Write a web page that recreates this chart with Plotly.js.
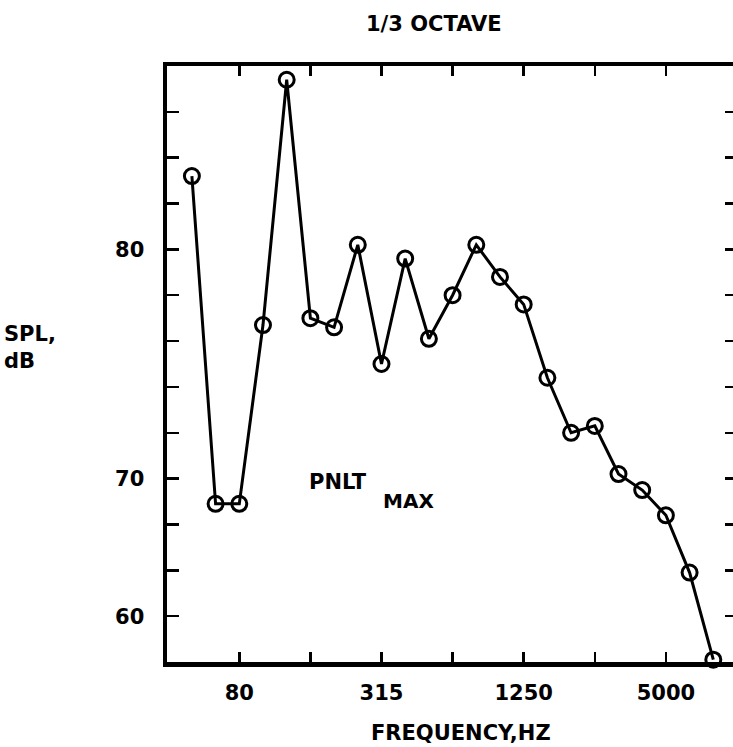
<!DOCTYPE html>
<html>
<head>
<meta charset="utf-8">
<script src="https://cdn.plot.ly/plotly-3.0.1.min.js"></script>
<style>
html, body { margin: 0; padding: 0; overflow: hidden; background: #fff; }
#chart { width: 741px; height: 747px; }
</style>
</head>
<body>
<div id="chart"></div>
<script>
// 1/3-octave band centre frequencies (Hz)
var bands = ["50","63","80","100","125","160","200","250","315","400","500","630","800","1000","1250","1600","2000","2500","3150","4000","5000","6300","8000"];
// SPL, dB at PNLT max
var spl = [83.2, 68.9, 68.9, 76.7, 87.4, 77.0, 76.6, 80.2, 75.0, 79.6, 76.1, 78.0, 80.2, 78.8, 77.6, 74.4, 72.0, 72.3, 70.2, 69.5, 68.4, 65.9, 62.1];

// x-axis tick marks and labels
var xTickVals = ["80","160","315","630","1250","2500","5000"];
var xTickText = ["80","","315","","1250","","5000"];
// y-axis tick marks and labels (as printed on the original)
var yTickVals = [62,64,66,68,70,72,74,76,78,80,82,84,86,88];
var yTickText = ["","60","","","70","","","","","80","","","",""];

var FONT = "DejaVu Sans, Verdana, sans-serif";

var trace = {
  x: bands,
  y: spl,
  type: "scatter",
  mode: "lines+markers",
  line: {color: "#000", width: 3},
  marker: {symbol: "circle-open", size: 15, color: "#000", line: {color: "#000", width: 3}},
  cliponaxis: false,
  hoverinfo: "x+y"
};

var W = 741, H = 747;
var mL = 167, mR = 4, mT = 66, mB = 85;
var pw = W - mL - mR, ph = H - mT - mB;
function px(x) { return (x - mL) / pw; }
function py(y) { return (H - mB - y) / ph; }

var layout = {
  width: W, height: H,
  margin: {l: mL, r: mR, t: mT, b: mB, pad: 0},
  paper_bgcolor: "#fff", plot_bgcolor: "#fff",
  showlegend: false,
  font: {family: FONT, color: "#000", size: 20, weight: "bold"},
  xaxis: {
    type: "category",
    range: [-1.05, 23.0],
    tickmode: "array", tickvals: xTickVals, ticktext: xTickText,
    ticks: "inside", ticklen: 10, tickwidth: 2.5, tickcolor: "#000",
    mirror: "ticks", showline: true, linewidth: 4.5, linecolor: "#000",
    showgrid: false, zeroline: false,
    ticklabelstandoff: 8,
    tickfont: {family: FONT, size: 21, color: "#000", weight: "bold"}
  },
  yaxis: {
    type: "linear",
    range: [62, 88],
    tickmode: "array", tickvals: yTickVals, ticktext: yTickText,
    ticks: "inside", ticklen: 12, tickwidth: 2.5, tickcolor: "#000",
    mirror: "ticks", showline: true, linewidth: 4.5, linecolor: "#000",
    showgrid: false, zeroline: false,
    ticklabelstandoff: 14,
    tickfont: {family: FONT, size: 21, color: "#000", weight: "bold"}
  },
  annotations: [
    {text: "1/3 OCTAVE", xref: "paper", yref: "paper", x: px(434), y: py(24),
     xanchor: "center", yanchor: "middle", showarrow: false,
     font: {family: FONT, size: 21, color: "#000", weight: "bold"}},
    {text: "FREQUENCY,HZ", xref: "paper", yref: "paper", x: px(461), y: py(733),
     xanchor: "center", yanchor: "middle", showarrow: false,
     font: {family: FONT, size: 21, color: "#000", weight: "bold"}},
    {text: "SPL,<br>dB", xref: "paper", yref: "paper", x: px(2), y: py(347),
     xanchor: "left", yanchor: "middle", align: "left", showarrow: false,
     font: {family: FONT, size: 21, color: "#000", weight: "bold"}},
    {text: "PNLT", xref: "paper", yref: "paper", x: px(307), y: py(482),
     xanchor: "left", yanchor: "middle", showarrow: false,
     font: {family: FONT, size: 21, color: "#000", weight: "bold"}},
    {text: "MAX", xref: "paper", yref: "paper", x: px(381), y: py(501),
     xanchor: "left", yanchor: "middle", showarrow: false,
     font: {family: FONT, size: 20, color: "#000", weight: "bold"}}
  ]
};

Plotly.newPlot("chart", [trace], layout, {displayModeBar: false, staticPlot: true});
</script>
</body>
</html>
